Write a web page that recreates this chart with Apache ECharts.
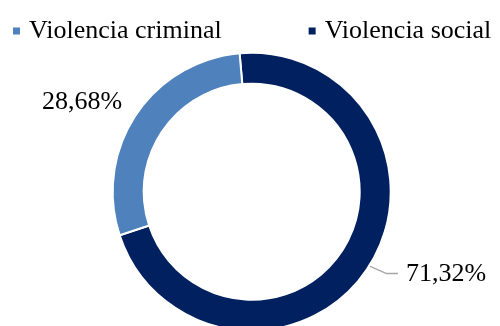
<!DOCTYPE html>
<html><head><meta charset="utf-8">
<script src="https://cdn.jsdelivr.net/npm/echarts@6/dist/echarts.min.js"></script>
<style>html,body{margin:0;padding:0;background:#fff}#c{width:500px;height:326px}</style>
</head><body><div id="c"></div>
<script>
const categories = ['Violencia social', 'Violencia criminal'];
const values = [71.32, 28.68];
const legendOrder = ['Violencia criminal', 'Violencia social'];
const colors = ['#002060', '#4F81BD'];

const cx = 251.7, cy = 191.7;
const chart = echarts.init(document.getElementById('c'), null, {renderer: 'canvas'});
const font = '"Liberation Serif", "Times New Roman", serif';
const fmt = v => v.toFixed(2).replace('.', ',') + '%';

chart.setOption({
  animation: false,
  color: colors,
  legend: {
    data: legendOrder,
    left: 6, top: 13,
    icon: 'rect', itemWidth: 9, itemHeight: 9, itemGap: 85,
    textStyle: {fontFamily: font, fontSize: 26, color: '#000', padding: [0, 0, 0, 3]}
  },
  series: [{
    type: 'pie',
    center: [cx, cy],
    radius: [108, 139],
    startAngle: 95,
    clockwise: true,
    avoidLabelOverlap: false,
    itemStyle: {borderColor: '#fff', borderWidth: 2},
    label: {
      show: true, position: 'outside', fontFamily: font, fontSize: 26, color: '#000',
      formatter: p => fmt(p.value)
    },
    labelLine: {show: true, length: 10, length2: 10, lineStyle: {color: '#A6A6A6', width: 1.3}},
    labelLayout: function (params) {
      if (params.dataIndex === 0) {
        const pts = params.labelLinePoints;
        const p0 = pts ? pts[0] : [cx, cy];
        const dx = p0[0] - cx, dy = p0[1] - cy;
        const r = Math.sqrt(dx * dx + dy * dy) || 1;
        const rin = 123;
        const s = [cx + dx / r * rin, cy + dy / r * rin];
        return {
          x: 406, y: 274, align: 'left', verticalAlign: 'middle',
          labelLinePoints: [s, [386.5, 273.5], [398, 273.5]]
        };
      }
      return {x: 82, y: 102, align: 'center', verticalAlign: 'middle'};
    },
    data: categories.map((n, i) => ({
      name: n, value: values[i],
      labelLine: {show: i === 0}
    }))
  }]
});
</script></body></html>
